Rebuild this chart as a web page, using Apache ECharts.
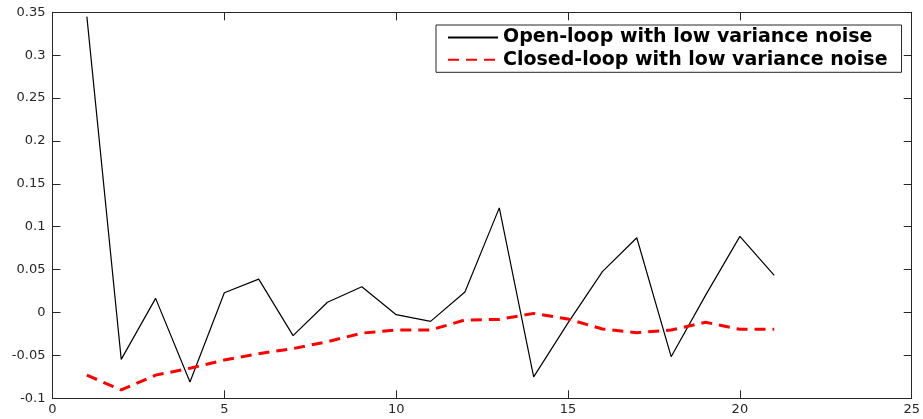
<!DOCTYPE html>
<html>
<head>
<meta charset="utf-8">
<script src="https://cdn.jsdelivr.net/npm/echarts@6/dist/echarts.min.js"></script>
<style>html,body{margin:0;padding:0;background:#fff;}#c{width:923px;height:419px;}</style>
</head>
<body>
<div id="c"></div>
<script>
const steps = [1,2,3,4,5,6,7,8,9,10,11,12,13,14,15,16,17,18,19,20,21];
const openLoop = [0.345,-0.0546,0.0165,-0.081,0.023,0.039,-0.027,0.012,0.030,-0.0025,-0.0103,0.024,0.122,-0.075,-0.012,0.0476,0.0872,-0.0515,0.020,0.0888,0.0433];
const closedLoop = [-0.073,-0.0903,-0.073,-0.065,-0.0554,-0.048,-0.042,-0.034,-0.024,-0.0204,-0.0204,-0.0087,-0.008,-0.001,-0.0076,-0.0192,-0.0235,-0.0204,-0.0114,-0.0196,-0.0196];
const seriesNames = ['Open-loop with low variance noise','Closed-loop with low variance noise'];
const xTickLabels = ['0','5','10','15','20','25'];
const yTickLabels = ['-0.1','-0.05','0','0.05','0.1','0.15','0.2','0.25','0.3','0.35'];

const axisColor = '#262626';
const font = 'DejaVu Sans';
function xFmt(v){ const i = Math.round(v/5); return xTickLabels[i] !== undefined ? xTickLabels[i] : ''; }
function yFmt(v){ const i = Math.round((v+0.1)/0.05); return yTickLabels[i] !== undefined ? yTickLabels[i] : ''; }
const axLine = {show:true,onZero:false,lineStyle:{color:axisColor,width:1}};
const axTick = {show:true,inside:true,length:8,lineStyle:{color:axisColor,width:1}};

const chart = echarts.init(document.getElementById('c'), null, {renderer:'canvas'});
chart.setOption({
  animation:false,
  backgroundColor:'#fff',
  grid:{left:52.5,right:6,top:12.3,bottom:20.7,show:false},
  legend:{
    orient:'vertical', left:436, top:25,
    backgroundColor:'#fff', borderColor:axisColor, borderWidth:1, borderRadius:0,
    padding:[3,14,3,11], itemGap:3.3, itemWidth:50, itemHeight:19,
    itemStyle:{opacity:0},
    textStyle:{fontFamily:font,fontWeight:'bold',fontSize:19,color:'#000',lineHeight:19},
    data:seriesNames
  },
  xAxis:[
    {type:'value',min:0,max:25,interval:5,position:'bottom',
     axisLine:axLine,axisTick:axTick,splitLine:{show:false},
     axisLabel:{formatter:xFmt,margin:5,fontFamily:font,fontSize:13,color:axisColor}},
    {type:'value',min:0,max:25,interval:5,position:'top',
     axisLine:axLine,axisTick:axTick,splitLine:{show:false},axisLabel:{show:false}}
  ],
  yAxis:[
    {type:'value',min:-0.1,max:0.35,interval:0.05,position:'left',
     axisLine:axLine,axisTick:axTick,splitLine:{show:false},
     axisLabel:{formatter:yFmt,margin:7,fontFamily:font,fontSize:13,color:axisColor}},
    {type:'value',min:-0.1,max:0.35,interval:0.05,position:'right',
     axisLine:axLine,axisTick:axTick,splitLine:{show:false},axisLabel:{show:false}}
  ],
  series:[
    {name:seriesNames[0],type:'line',symbol:'none',data:steps.map((s,i)=>[s,openLoop[i]]),
     lineStyle:{color:'#000',width:1.2},itemStyle:{color:'#000'}},
    {name:seriesNames[1],type:'line',symbol:'none',data:steps.map((s,i)=>[s,closedLoop[i]]),
     lineStyle:{color:'#ff0000',width:3,type:[11,7]},itemStyle:{color:'#ff0000'}}
  ]
});
</script>
</body>
</html>
